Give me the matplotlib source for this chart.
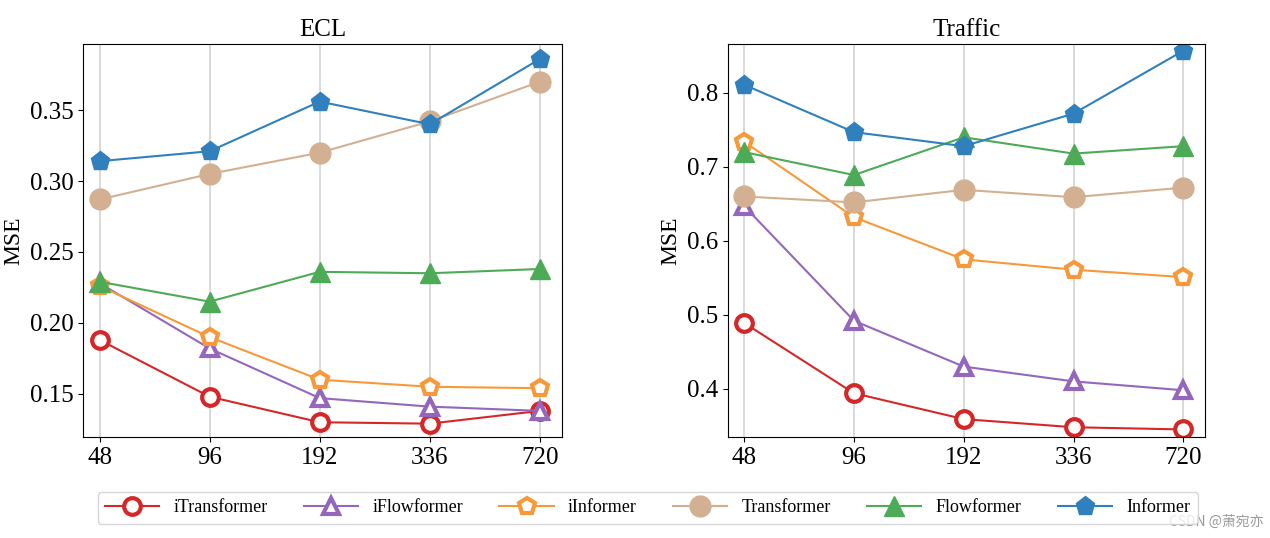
import matplotlib
matplotlib.use("Agg")
from matplotlib import pyplot as plt

plt.rcParams['font.family'] = ['Liberation Serif', 'DejaVu Serif']

# prediction lengths
horizons = ['48', '96', '192', '336', '720']
models = ['iTransformer', 'iFlowformer', 'iInformer', 'Transformer', 'Flowformer', 'Informer']

# ECL MSE
ecl_itransformer = [0.188, 0.148, 0.130, 0.129, 0.138]
ecl_iflowformer = [0.228, 0.182, 0.147, 0.141, 0.138]
ecl_iinformer = [0.226, 0.190, 0.160, 0.155, 0.154]
ecl_transformer = [0.287, 0.305, 0.320, 0.342, 0.370]
ecl_flowformer = [0.229, 0.215, 0.236, 0.235, 0.238]
ecl_informer = [0.314, 0.321, 0.356, 0.340, 0.386]

# Traffic MSE
trf_itransformer = [0.489, 0.394, 0.359, 0.348, 0.345]
trf_iflowformer = [0.647, 0.492, 0.430, 0.410, 0.398]
trf_iinformer = [0.734, 0.632, 0.575, 0.561, 0.551]
trf_transformer = [0.660, 0.652, 0.669, 0.659, 0.672]
trf_flowformer = [0.720, 0.689, 0.740, 0.718, 0.728]
trf_informer = [0.811, 0.747, 0.728, 0.772, 0.857]

colors = ['#d62728', '#9467bd', '#f7993a', '#d2b091', '#4dab57', '#2f80bd']
markers = ['o', '^', 'p', 'o', '^', 'p']
hollow = [True, True, True, False, False, False]


def draw(ax, series, title, ylim, yticks):
    x = list(range(len(horizons)))
    for vals, name, c, m, h in zip(series, models, colors, markers, hollow):
        if h:
            ax.plot(x, vals, color=c, marker=m, markersize=12, markerfacecolor='white',
                    markeredgewidth=3, linewidth=1.5, label=name)
        else:
            ax.plot(x, vals, color=c, marker=m, markersize=15 if m == 'o' else 14,
                    linewidth=1.5, label=name)
    ax.set_xticks(x)
    ax.set_xticklabels(horizons)
    ax.set_xlim(-0.15, 4.2)
    ax.set_ylim(*ylim)
    ax.set_yticks(yticks)
    ax.grid(axis='x', color='#d3d3d3', linewidth=1.2)
    ax.set_axisbelow(True)
    ax.tick_params(labelsize=18)
    ax.set_title(title, fontsize=18)
    ax.set_ylabel('MSE', fontsize=17)


fig = plt.figure(figsize=(12.7, 5.38), dpi=100)
ax1 = fig.add_axes([0.0654, 0.188, 0.377, 0.730])
ax2 = fig.add_axes([0.573, 0.188, 0.376, 0.730])

draw(ax1, [ecl_itransformer, ecl_iflowformer, ecl_iinformer, ecl_transformer, ecl_flowformer, ecl_informer],
     'ECL', (0.1197, 0.3965), [0.15, 0.20, 0.25, 0.30, 0.35])
ax1.set_yticklabels(['0.15', '0.20', '0.25', '0.30', '0.35'])
draw(ax2, [trf_itransformer, trf_iflowformer, trf_iinformer, trf_transformer, trf_flowformer, trf_informer],
     'Traffic', (0.335, 0.866), [0.4, 0.5, 0.6, 0.7, 0.8])

handles, labels = ax1.get_legend_handles_labels()
fig.legend(handles, labels, loc='center', bbox_to_anchor=(0.510, 0.056), ncol=6,
           fontsize=13, frameon=True, handlelength=3, columnspacing=2.0)

fig.text(0.995, 0.03, 'CSDN @萧宛亦', ha='right', va='center', fontsize=10, color='#999999',
         family=['Noto Sans CJK SC', 'DejaVu Sans'])

fig.savefig('out.png', dpi=100)
